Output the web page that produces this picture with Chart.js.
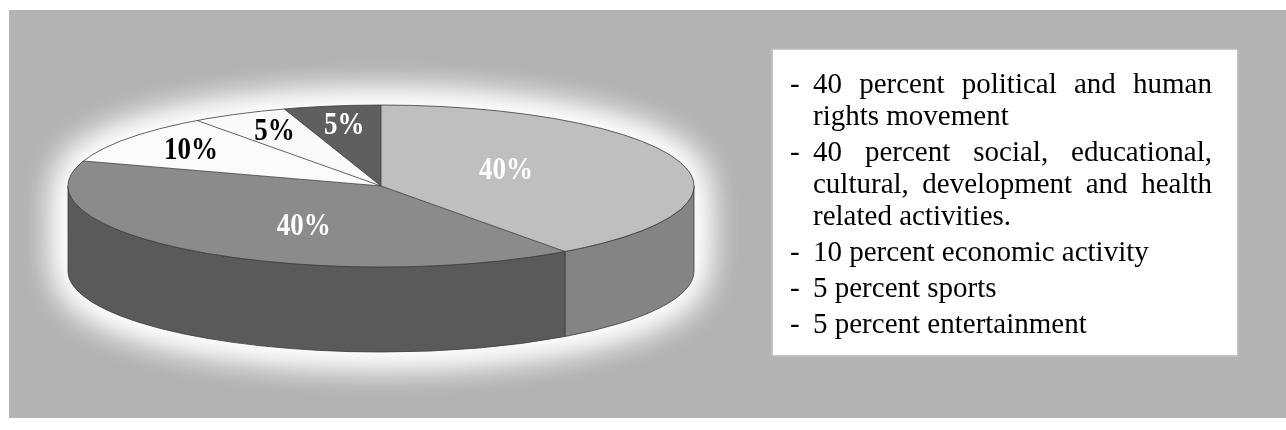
<!DOCTYPE html>
<html>
<head>
<meta charset="utf-8">
<script src="https://cdn.jsdelivr.net/npm/chart.js@4.4.1/dist/chart.umd.min.js"></script>
<style>
    body { margin: 0; background: #ffffff; width: 1286px; height: 430px; overflow: hidden; position: relative; }
    #panel { position: absolute; left: 9px; top: 10px; width: 1277px; height: 408px; background: #b3b3b3; }
    #pieCanvas { position: absolute; left: 0; top: 0; }
    #legend { position: absolute; left: 773px; top: 50px; width: 464px; height: 305px; background: #ffffff;
              box-shadow: 0 0 2px 1px #d0d0d0; box-sizing: border-box; padding: 17px 25px 0 40px;
              font-family: "Liberation Serif", "Times New Roman", serif; font-size: 29px; line-height: 32px; color: #000; }
    #legend ul { margin: 0; padding: 0; list-style: none; }
    #legend li { position: relative; text-align: justify; margin-bottom: 4px; }
    #legend li::before { content: "-"; position: absolute; left: -23px; top: 0; }
</style>
</head>
<body>
<div id="panel"></div>
<canvas id="pieCanvas" width="1286" height="430"></canvas>
<div id="legend"><ul id="legendList"></ul></div>

<script>
var categories = ['political and human rights movement',
    'social, educational, cultural, development and health related activities.',
    'economic activity',
    'sports',
    'entertainment'];
var shares = [40, 40, 10, 5, 5];
var labelTexts = ['40%', '40%', '10%', '5%', '5%'];

// grey scale shades, top face / side wall / label
var topColors = ['#bfbfbf', '#8b8b8b', '#fbfbfb', '#fafafa', '#5f5f5f'];
var sideColors = ['#848484', '#5a5a5a', '#d0d0d0', '#d0d0d0', '#404040'];
var labelColors = ['#ffffff', '#ffffff', '#000000', '#000000', '#ffffff'];

// where the flattened pie sits on the page
var pieBox = { cx: 381, cy: 186, rx: 313, ry: 81, depth: 85 };

function BuildLegend() {
    var list = document.getElementById('legendList');
    for (var i = 0; i < categories.length; i++) {
        var li = document.createElement('li');
        li.textContent = shares[i] + ' percent ' + categories[i];
        list.appendChild(li);
    }
}

var pie3d = {
    id: 'pie3d',
    beforeDatasetsDraw: function (chart) {
        var ctx = chart.ctx;
        var arcs = chart.getDatasetMeta(0).data;
        var first = arcs[0];

        ctx.save();

        // white glow behind the cylinder
        ctx.save();
        ctx.shadowColor = 'rgba(255,255,255,1)';
        ctx.shadowBlur = 40;
        ctx.fillStyle = '#f4f4f4';
        for (var g = 0; g < 4; g++) {
            ctx.beginPath();
            ctx.ellipse(pieBox.cx, pieBox.cy, pieBox.rx, pieBox.ry, 0, Math.PI, 2 * Math.PI);
            ctx.ellipse(pieBox.cx, pieBox.cy + pieBox.depth, pieBox.rx, pieBox.ry, 0, 0, Math.PI);
            ctx.closePath();
            ctx.fill();
        }
        ctx.restore();

        // front side walls
        for (var i = 0; i < arcs.length; i++) {
            var s = Math.max(arcs[i].startAngle, 0);
            var e = Math.min(arcs[i].endAngle, Math.PI);
            if (s >= e) continue;
            ctx.beginPath();
            ctx.ellipse(pieBox.cx, pieBox.cy, pieBox.rx, pieBox.ry, 0, s, e);
            ctx.ellipse(pieBox.cx, pieBox.cy + pieBox.depth, pieBox.rx, pieBox.ry, 0, e, s, true);
            ctx.closePath();
            ctx.fillStyle = sideColors[i];
            ctx.fill();
            ctx.strokeStyle = '#3c3c3c';
            ctx.lineWidth = 0.8;
            ctx.stroke();
        }

        // squash the library's round pie into the top ellipse
        ctx.translate(pieBox.cx, pieBox.cy);
        ctx.scale(pieBox.rx / first.outerRadius, pieBox.ry / first.outerRadius);
        ctx.translate(-first.x, -first.y);
    },
    afterDatasetsDraw: function (chart) {
        var ctx = chart.ctx;
        var arcs = chart.getDatasetMeta(0).data;
        ctx.restore();

        ctx.save();
        ctx.strokeStyle = '#3c3c3c';
        ctx.lineWidth = 0.8;
        ctx.beginPath();
        ctx.ellipse(pieBox.cx, pieBox.cy, pieBox.rx, pieBox.ry, 0, 0, 2 * Math.PI);
        ctx.stroke();
        for (var i = 0; i < arcs.length; i++) {
            var a = arcs[i].startAngle;
            ctx.beginPath();
            ctx.moveTo(pieBox.cx, pieBox.cy);
            ctx.lineTo(pieBox.cx + pieBox.rx * Math.cos(a), pieBox.cy + pieBox.ry * Math.sin(a));
            ctx.stroke();
        }

        // labels, a bit stretched like the original lettering
        ctx.font = 'bold 27px "Liberation Serif", serif';
        ctx.textAlign = 'center';
        ctx.textBaseline = 'middle';
        for (var j = 0; j < arcs.length; j++) {
            var mid = (arcs[j].startAngle + arcs[j].endAngle) / 2;
            var fx = shares[j] >= 20 ? 0.42 : 0.75;
            var fy = shares[j] >= 20 ? 0.62 : 0.75;
            var lx = pieBox.cx + pieBox.rx * fx * Math.cos(mid);
            var ly = pieBox.cy + pieBox.ry * fy * Math.sin(mid);
            ctx.save();
            ctx.translate(lx, ly);
            ctx.scale(1, 1.2);
            ctx.fillStyle = labelColors[j];
            ctx.fillText(labelTexts[j], 0, 0);
            ctx.restore();
        }
        ctx.restore();
    }
};

BuildLegend();

var chartInstance = new Chart(document.getElementById('pieCanvas').getContext('2d'), {
    type: 'pie',
    data: {
        labels: categories,
        datasets: [{
            data: shares,
            backgroundColor: topColors,
            borderWidth: 0
        }]
    },
    options: {
        responsive: false,
        devicePixelRatio: 1,
        animation: false,
        events: [],
        layout: { padding: { left: 0, top: 0, bottom: 0, right: 526 } },
        plugins: {
            legend: { display: false },
            tooltip: { enabled: false }
        }
    },
    plugins: [pie3d]
});
</script>
</body>
</html>
